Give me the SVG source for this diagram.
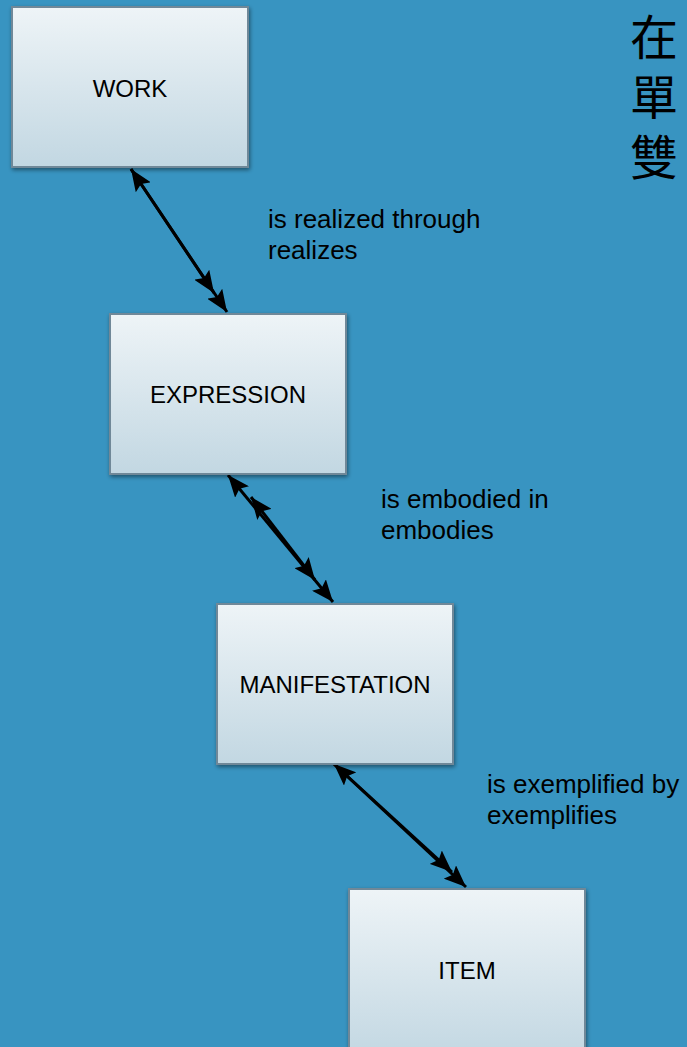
<svg xmlns="http://www.w3.org/2000/svg" width="687" height="1047" viewBox="0 0 687 1047">
<defs>
<linearGradient id="boxg" x1="0" y1="0" x2="0" y2="1">
<stop offset="0" stop-color="#eef4f7"/>
<stop offset="1" stop-color="#c2d7e2"/>
</linearGradient>
<filter id="sh" x="-10%" y="-10%" width="130%" height="130%">
<feGaussianBlur in="SourceAlpha" stdDeviation="2"/>
<feOffset dx="1" dy="2" result="b"/>
<feComponentTransfer><feFuncA type="linear" slope="0.45"/></feComponentTransfer>
<feMerge><feMergeNode/><feMergeNode in="SourceGraphic"/></feMerge>
</filter>
<marker id="ah" viewBox="0 0 22 18" refX="22" refY="9" markerWidth="22" markerHeight="18" markerUnits="userSpaceOnUse" orient="auto-start-reverse">
<path d="M0,0 L22,9 L0,18 L4,9 Z" fill="#000"/>
</marker>
</defs>
<style>
.box{fill:url(#boxg);stroke:#6f8898;stroke-width:2;filter:url(#sh)}
.bt{font-family:"Liberation Sans",Arial,sans-serif;font-size:24px;fill:#000;text-anchor:middle}
.lb{font-family:"Liberation Sans",Arial,sans-serif;font-size:26px;fill:#000}
.cn{font-family:"Noto Sans CJK TC","Noto Sans CJK SC",serif;font-size:48px;fill:#000}
.ln{stroke:#000;stroke-width:3;fill:none}
</style>
<rect x="0" y="0" width="687" height="1047" fill="#3894c1"/>

<g id="connectors">
<line class="ln" x1="131" y1="169" x2="227" y2="312" marker-start="url(#ah)" marker-end="url(#ah)"/>
<line class="ln" x1="131" y1="169" x2="214" y2="293" marker-end="url(#ah)"/>
<line class="ln" x1="228" y1="475" x2="333" y2="602" marker-start="url(#ah)" marker-end="url(#ah)"/>
<line class="ln" x1="251" y1="497" x2="315" y2="580" marker-start="url(#ah)" marker-end="url(#ah)"/>
<line class="ln" x1="334" y1="764" x2="466" y2="887" marker-start="url(#ah)" marker-end="url(#ah)"/>
<line class="ln" x1="334" y1="764" x2="452" y2="872" marker-end="url(#ah)"/>
</g>

<g id="work">
<rect class="box" x="12" y="7" width="236" height="160"/>
<text class="bt" x="130" y="97">WORK</text>
</g>
<g id="expression">
<rect class="box" x="110" y="314" width="236" height="160"/>
<text class="bt" x="228" y="403">EXPRESSION</text>
</g>
<g id="manifestation">
<rect class="box" x="217" y="604" width="236" height="160"/>
<text class="bt" x="335" y="693">MANIFESTATION</text>
</g>
<g id="item">
<rect class="box" x="349" y="889" width="236" height="170"/>
<text class="bt" x="467" y="979">ITEM</text>
</g>

<g id="labels">
<text class="lb" x="268" y="228">is realized through</text>
<text class="lb" x="268" y="259">realizes</text>
<text class="lb" x="381" y="508">is embodied in</text>
<text class="lb" x="381" y="539">embodies</text>
<text class="lb" x="487" y="793">is exemplified by</text>
<text class="lb" x="487" y="824">exemplifies</text>
</g>

<g id="title">
<text class="cn" x="630" y="55">在</text>
<text class="cn" x="630" y="115">單</text>
<text class="cn" x="630" y="175">雙</text>
</g>
</svg>
